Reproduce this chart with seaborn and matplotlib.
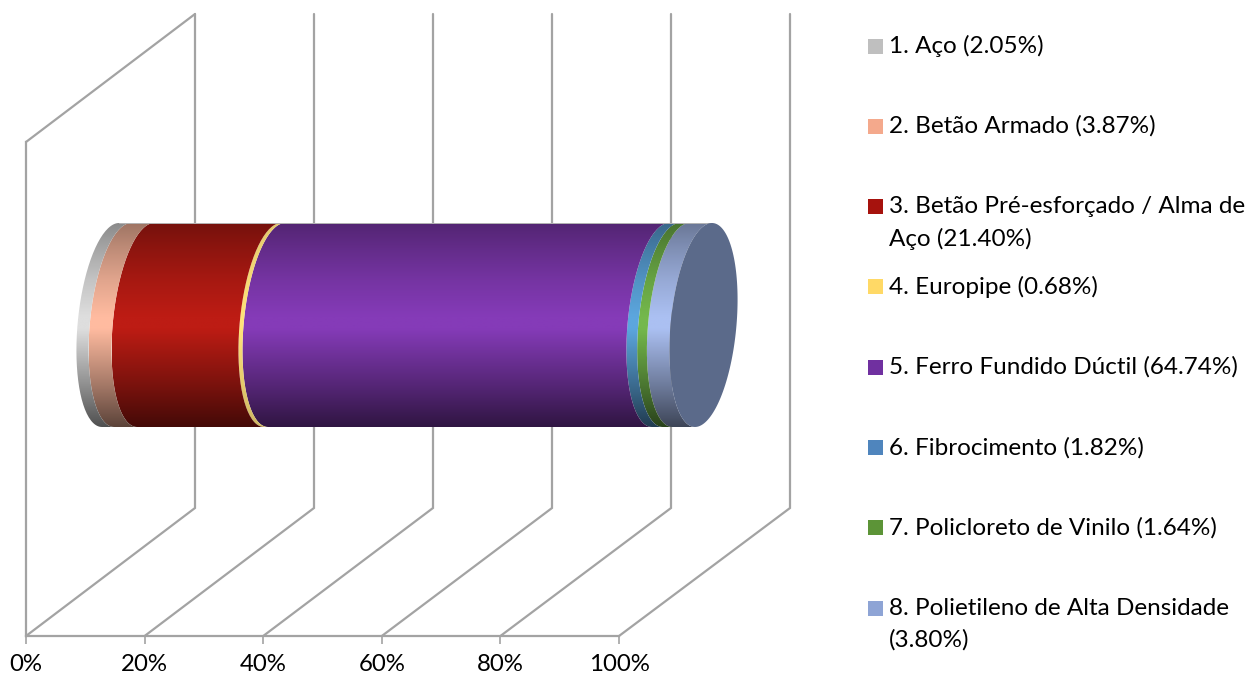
import numpy as np
import matplotlib
matplotlib.use("Agg")
import matplotlib.pyplot as plt
from matplotlib.path import Path
from matplotlib.patches import PathPatch, Rectangle
import seaborn as sns

# Share of pipe length per material (%)
materials = ["1. Aço (2.05%)", "2. Betão Armado (3.87%)",
             "3. Betão Pré-esforçado / Alma de\nAço (21.40%)", "4. Europipe (0.68%)",
             "5. Ferro Fundido Dúctil (64.74%)", "6. Fibrocimento (1.82%)",
             "7. Policloreto de Vinilo (1.64%)", "8. Polietileno de Alta Densidade\n(3.80%)"]
shares = [2.05, 3.87, 21.40, 0.68, 64.74, 1.82, 1.64, 3.80]
legend_colors = ["#BFBFBF", "#F4A98C", "#A6120D", "#FFD966", "#7030A0", "#4F85BD", "#5C9437", "#8EA4D5"]
shine_colors = ["#DEDEDE", "#FFBBA0", "#BD1C14", "#FFE27A", "#853BB8", "#5CA6DE", "#74B84C", "#ABC0F2"]
shade_strength = [1, 1, 1, 0.3, 1, 1, 1, 1]
cap_color = "#5B6A8A"
tick_values = [0, 20, 40, 60, 80, 100]

sns.set_theme(style="white")
plt.rcParams["font.family"] = ["Lato", "DejaVu Sans"]

W, H = 1252, 682
fig = plt.figure(figsize=(W / 100, H / 100), dpi=100, facecolor="white")
ax = fig.add_axes([26 / W, (H - 636) / H, 593 / W, 494 / H])
ax.set_facecolor("none")

# Projection of the depth axis and cylinder shape, in axis units
x_unit, y_unit = 593 / 100, 494 / 100
depth_x, depth_y = 169 / x_unit, 128 / y_unit
back_stretch = 595 / 593
semi_x, shear, semi_y = 33.0 / x_unit, 8.5 / x_unit, 102 / y_unit
centre_y = 50 + depth_y / 2
wall_color = "#A3A3A3"
wall_lw = 1.6


def ellipse(p, start, stop, n=80):
    t = np.radians(np.linspace(start, stop, n))
    cx = p + depth_x / 2
    return np.column_stack([cx + semi_x * np.cos(t) + shear * np.sin(t),
                            centre_y + semi_y * np.sin(t)])


# Walls of the 3D frame
for v in tick_values:
    back = v * back_stretch + depth_x
    ax.plot([v, back, back], [0, depth_y, 100 + depth_y],
            color=wall_color, lw=wall_lw, clip_on=False, zorder=1, solid_joinstyle="miter")
ax.plot([0, depth_x], [100, 100 + depth_y], color=wall_color, lw=wall_lw, clip_on=False, zorder=1)

# Stacked cylinder, right segment first so the left ones sit on clean edges
edges = np.concatenate([[0], np.cumsum(shares)])
stops = [0.0, 0.12, 0.28, 0.46, 0.52, 0.62, 0.80, 1.0]
levels = np.array([0.62, 0.74, 0.88, 1.0, 1.0, 0.87, 0.64, 0.36])
for i in range(len(shares) - 1, -1, -1):
    left = ellipse(edges[i], 90, 270)
    right = ellipse(edges[i + 1], 270, 90)
    outline = np.vstack([left, right, left[:1]])
    patch = PathPatch(Path(outline), facecolor="none", edgecolor="none", zorder=3, clip_on=False)
    ax.add_patch(patch)
    base = np.array(matplotlib.colors.to_rgb(shine_colors[i]))
    shaded = 1 - (1 - levels) * shade_strength[i]
    ramp = matplotlib.colors.LinearSegmentedColormap.from_list(
        "shade", [(s, tuple(base * v)) for s, v in zip(stops, shaded)])
    im = ax.imshow(np.linspace(0, 1, 256)[:, None], cmap=ramp, aspect="auto", origin="upper",
                   extent=[outline[:, 0].min(), outline[:, 0].max(),
                           centre_y - semi_y, centre_y + semi_y],
                   zorder=3, interpolation="bilinear")
    im.set_clip_path(patch)
    im.set_clip_box(fig.bbox)

# Faint rim along the upper edge of the cylinder
rim_y = centre_y + semi_y
ax.plot([ellipse(0, 90, 90, 1)[0, 0], ellipse(100, 90, 90, 1)[0, 0]], [rim_y, rim_y],
        color="#B5B5B5", lw=0.7, clip_on=False, zorder=3.5)

# End cap
cap = ellipse(edges[-1], 0, 360, 160)
ax.fill(cap[:, 0], cap[:, 1], color=cap_color, lw=0, zorder=4, clip_on=False)

ax.set_xlim(0, 100)
ax.set_ylim(0, 100)
ax.set_yticks([])
ax.set_xticks(tick_values)
ax.set_xticklabels([f"{v}%" for v in tick_values], fontsize=17.3, color="black")
ax.tick_params(axis="x", bottom=True, length=5.8, width=1.2, color=wall_color, pad=7)
sns.despine(ax=ax, top=True, right=True)
for side in ("left", "bottom"):
    ax.spines[side].set_color(wall_color)
    ax.spines[side].set_linewidth(wall_lw)
    ax.spines[side].set_zorder(1)

# Legend column, drawn on a full-figure overlay measured in pixels
overlay = fig.add_axes([0, 0, 1, 1])
overlay.set_xlim(0, W)
overlay.set_ylim(H, 0)
overlay.axis("off")
palette = sns.color_palette(legend_colors)
for k, (name, colour) in enumerate(zip(materials, palette)):
    row = 46 + k * 80.3
    overlay.add_patch(Rectangle((868, row - 7.5), 15, 15, facecolor=colour, edgecolor="none"))
    for j, line in enumerate(name.split("\n")):
        overlay.text(889, row + j * 32, line, fontsize=17.5, color="black", va="center", ha="left")

fig.savefig("out.png", dpi=100, facecolor="white")
